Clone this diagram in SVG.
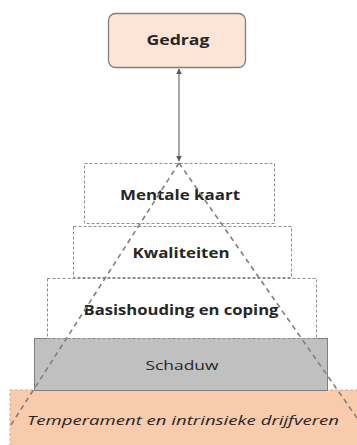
<svg xmlns="http://www.w3.org/2000/svg" width="357" height="445" viewBox="0 0 357 445">
<defs>
<style>
.lbl{font-family:"Open Sans","Liberation Sans",sans-serif;fill:#262626;text-anchor:middle}
.b{font-weight:bold;font-size:13.5px}
.dash{fill:#ffffff;stroke:#8c8c8c;stroke-width:1;stroke-dasharray:3 2}
.tri{fill:none;stroke:#7f7f7f;stroke-width:1.6;stroke-dasharray:5 4}
</style>
<marker id="ah" viewBox="0 0 10 10" refX="9" refY="5" markerWidth="4" markerHeight="4" orient="auto">
<path d="M0,0 L10,5 L0,10 z" fill="#595959"/>
</marker>
<marker id="as" viewBox="0 0 10 10" refX="1" refY="5" markerWidth="4" markerHeight="4" orient="auto">
<path d="M10,0 L0,5 L10,10 z" fill="#595959"/>
</marker>
</defs>
<rect width="357" height="445" fill="#ffffff"/>
<g id="temperament">
<rect x="10" y="390" width="350" height="58" fill="#f8cbad" stroke="#c0a090" stroke-width="0.8" stroke-dasharray="3 2"/>
<text class="lbl" x="183" y="425" font-size="13.5" font-style="italic" textLength="312" lengthAdjust="spacingAndGlyphs">Temperament en intrinsieke drijfveren</text>
</g>
<g id="schaduw">
<rect x="34.5" y="338.5" width="293" height="52" fill="#c0c0c0" stroke="#7f7f7f" stroke-width="1"/>
<text class="lbl" x="182" y="370" font-size="13.5" textLength="73" lengthAdjust="spacingAndGlyphs">Schaduw</text>
</g>
<g id="basishouding">
<rect class="dash" x="47.5" y="278.5" width="269" height="60"/>
<text class="lbl b" x="181" y="315" textLength="195" lengthAdjust="spacingAndGlyphs">Basishouding en coping</text>
</g>
<g id="kwaliteiten">
<rect class="dash" x="73.5" y="226.5" width="218" height="51"/>
<text class="lbl b" x="181" y="258" textLength="97" lengthAdjust="spacingAndGlyphs">Kwaliteiten</text>
</g>
<g id="mentale">
<rect class="dash" x="84.5" y="163.5" width="190" height="60"/>
<text class="lbl b" x="180" y="200" textLength="120" lengthAdjust="spacingAndGlyphs">Mentale kaart</text>
</g>
<g id="gedrag">
<rect x="108.5" y="13.5" width="137" height="54" rx="7" fill="#fce4d6" stroke="#7f7f7f" stroke-width="1.3"/>
<text class="lbl b" x="178" y="45" font-size="14" textLength="63" lengthAdjust="spacingAndGlyphs">Gedrag</text>
</g>
<g id="connectors">
<line x1="179" y1="161" x2="179" y2="69" stroke="#8c8c8c" stroke-width="1.5" marker-end="url(#ah)" marker-start="url(#as)"/>
<line class="tri" x1="179" y1="163" x2="9" y2="428"/>
<line class="tri" x1="179" y1="163" x2="357" y2="418"/>
</g>
</svg>
